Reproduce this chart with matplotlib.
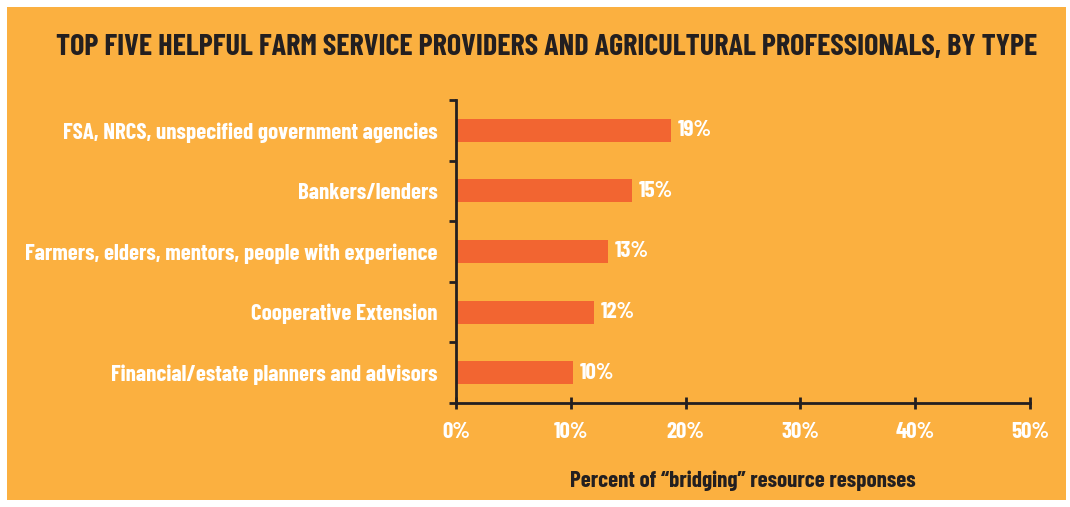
import matplotlib.pyplot as plt
from matplotlib.patches import Rectangle
from matplotlib import font_manager

# Chart data
categories = [
    "FSA, NRCS, unspecified government agencies",
    "Bankers/lenders",
    "Farmers, elders, mentors, people with experience",
    "Cooperative Extension",
    "Financial/estate planners and advisors",
]
values = [18.7, 15.3, 13.2, 12.0, 10.2]
value_labels = ["19%", "15%", "13%", "12%", "10%"]
x_ticks = [0, 10, 20, 30, 40, 50]
x_tick_labels = ["0%", "10%", "20%", "30%", "40%", "50%"]

title = "TOP FIVE HELPFUL FARM SERVICE PROVIDERS AND AGRICULTURAL PROFESSIONALS, BY TYPE"
xlabel = "Percent of \u201cbridging\u201d resource responses"

# Colours
bg = "#FBB040"
bar_color = "#F26531"
dark = "#231F20"

# condensed font if we have one, otherwise shrink DejaVu
names = {f.name for f in font_manager.fontManager.ttflist}
if "Barlow Condensed" in names:
    plt.rcParams["font.family"] = ["Barlow Condensed", "DejaVu Sans"]
    k = 1.0
else:
    plt.rcParams["font.family"] = ["DejaVu Sans"]
    plt.rcParams["font.stretch"] = "condensed"
    k = 0.72

fig = plt.figure(figsize=(10.7, 5.07), dpi=100)
fig.patch.set_facecolor("white")
# orange panel
fig.add_artist(Rectangle((7 / 1070, 7 / 507), 1059 / 1070, 493 / 507,
                         transform=fig.transFigure, facecolor=bg, edgecolor="none", zorder=-1))

ax = fig.add_axes([456 / 1070, 1 - 403 / 507, (1030 - 456) / 1070, (403 - 100) / 507])
ax.set_facecolor("none")

n = len(categories)
ypos = list(range(n))[::-1]
ax.barh(ypos, values, height=0.38, color=bar_color, zorder=2)
for y, v, lab in zip(ypos, values, value_labels):
    ax.text(v + 0.6, y, lab, va="center", ha="left", color="white",
            fontsize=16.5 * k, fontweight="bold")

ax.set_xlim(0, 50)
ax.set_ylim(-0.5, n - 0.5)
ax.set_xticks(x_ticks)
ax.set_xticklabels(x_tick_labels, color="white", fontsize=16.5 * k, fontweight="bold")
ax.set_yticks(ypos)
ax.set_yticklabels(categories, color="white", fontsize=16.5 * k, fontweight="bold")
ax.tick_params(axis="y", length=0, pad=13)
# boundary ticks on y axis
ax.set_yticks([i - 0.5 for i in range(n + 1)], minor=True)
ax.tick_params(axis="y", which="minor", length=5, width=2, color=dark)
ax.tick_params(axis="x", length=9, width=2, color=dark, direction="inout", pad=9)

for s in ["top", "right"]:
    ax.spines[s].set_visible(False)
for s in ["left", "bottom"]:
    ax.spines[s].set_color(dark)
    ax.spines[s].set_linewidth(2)

ax.set_xlabel(xlabel, color=dark, fontsize=16.5 * k, fontweight="bold", labelpad=21)

fig.text(547 / 1070, 1 - 47 / 507, title, ha="center", va="center", color=dark,
         fontsize=21.7 * k, fontweight="bold")

fig.savefig("out.png", dpi=100, facecolor=fig.get_facecolor())
